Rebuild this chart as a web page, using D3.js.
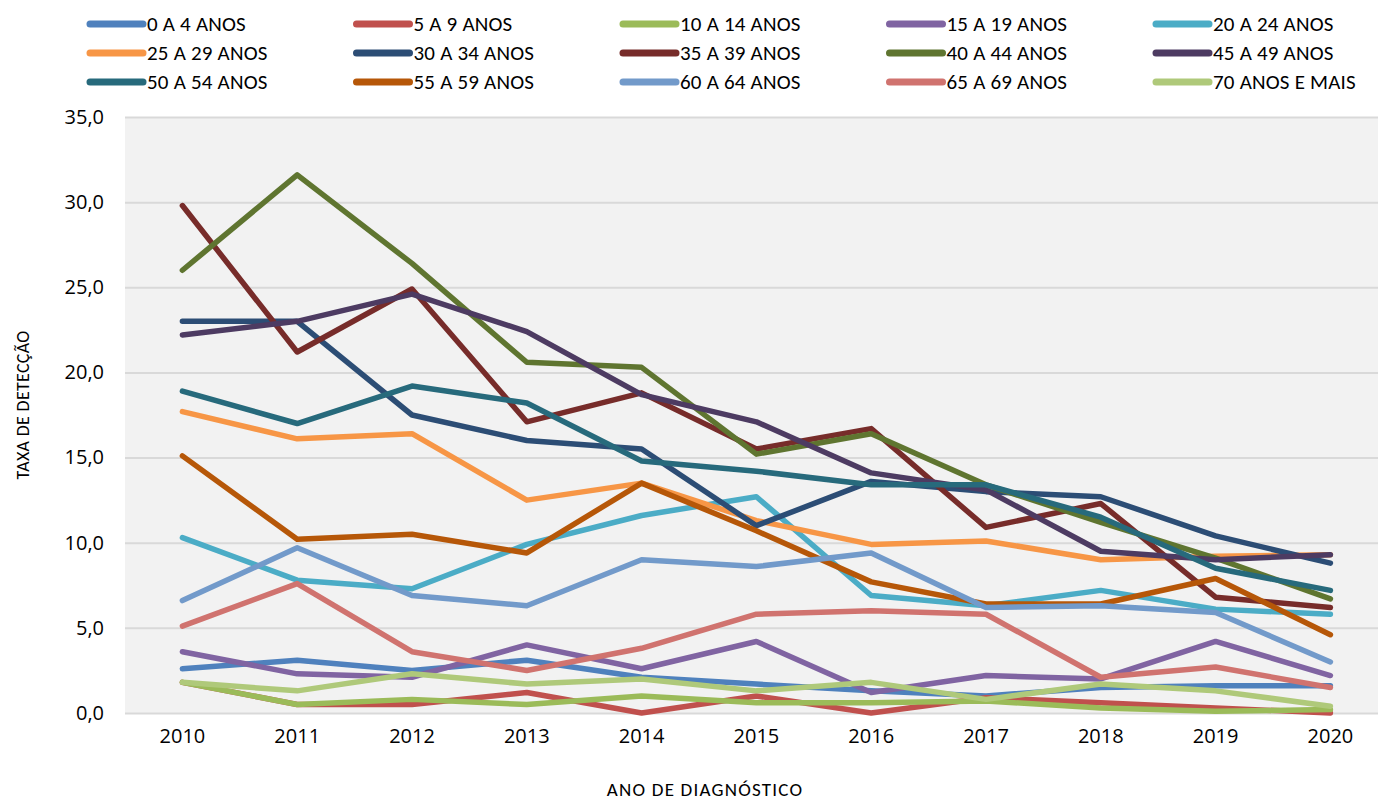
<!DOCTYPE html>
<html>
<head>
<meta charset="utf-8">
<script src="https://cdn.jsdelivr.net/npm/d3@7"></script>
<style>
  body { margin: 0; background: #fff; }
  .tick text { font-family: "Open Sans", "DejaVu Sans", sans-serif; }
  .leg, .title { font-family: Carlito, "Liberation Sans Narrow", "Liberation Sans", sans-serif; }
</style>
</head>
<body>
<div id="chart"></div>
<script>
// Data
let years = ["2010", "2011", "2012", "2013", "2014", "2015", "2016", "2017", "2018", "2019", "2020"];
let groups = [
	"0 A 4 ANOS", "5 A 9 ANOS", "10 A 14 ANOS", "15 A 19 ANOS", "20 A 24 ANOS",
	"25 A 29 ANOS", "30 A 34 ANOS", "35 A 39 ANOS", "40 A 44 ANOS", "45 A 49 ANOS",
	"50 A 54 ANOS", "55 A 59 ANOS", "60 A 64 ANOS", "65 A 69 ANOS", "70 ANOS E MAIS"
];
let colors = [
	"#4f81bd", "#c0504d", "#9bbb59", "#8064a2", "#4bacc6",
	"#f79646", "#2c4d75", "#772c2a", "#5f7530", "#4d3b62",
	"#276a7c", "#b65708", "#729aca", "#d0736f", "#afc97a"
];
let age0_4   = [2.6, 3.1, 2.5, 3.1, 2.1, 1.7, 1.3, 1.0, 1.5, 1.6, 1.6];
let age5_9   = [1.8, 0.5, 0.5, 1.2, 0.0, 1.0, 0.0, 0.9, 0.6, 0.3, 0.0];
let age10_14 = [1.8, 0.5, 0.8, 0.5, 1.0, 0.6, 0.6, 0.7, 0.3, 0.1, 0.2];
let age15_19 = [3.6, 2.3, 2.1, 4.0, 2.6, 4.2, 1.2, 2.2, 2.0, 4.2, 2.2];
let age20_24 = [10.3, 7.8, 7.3, 9.9, 11.6, 12.7, 6.9, 6.3, 7.2, 6.1, 5.8];
let age25_29 = [17.7, 16.1, 16.4, 12.5, 13.5, 11.3, 9.9, 10.1, 9.0, 9.2, 9.3];
let age30_34 = [23.0, 23.0, 17.5, 16.0, 15.5, 11.0, 13.6, 13.0, 12.7, 10.4, 8.8];
let age35_39 = [29.8, 21.2, 24.9, 17.1, 18.8, 15.5, 16.7, 10.9, 12.3, 6.8, 6.2];
let age40_44 = [26.0, 31.6, 26.4, 20.6, 20.3, 15.2, 16.4, 13.4, 11.2, 9.1, 6.7];
let age45_49 = [22.2, 23.0, 24.6, 22.4, 18.7, 17.1, 14.1, 13.1, 9.5, 9.0, 9.3];
let age50_54 = [18.9, 17.0, 19.2, 18.2, 14.8, 14.2, 13.4, 13.4, 11.5, 8.5, 7.2];
let age55_59 = [15.1, 10.2, 10.5, 9.4, 13.5, 10.7, 7.7, 6.4, 6.4, 7.9, 4.6];
let age60_64 = [6.6, 9.7, 6.9, 6.3, 9.0, 8.6, 9.4, 6.2, 6.3, 5.9, 3.0];
let age65_69 = [5.1, 7.6, 3.6, 2.5, 3.8, 5.8, 6.0, 5.8, 2.1, 2.7, 1.5];
let age70    = [1.8, 1.3, 2.3, 1.7, 2.0, 1.3, 1.8, 0.8, 1.7, 1.3, 0.4];
let yTicks = [0, 5, 10, 15, 20, 25, 30, 35];

let series = [age0_4, age5_9, age10_14, age15_19, age20_24, age25_29, age30_34,
	age35_39, age40_44, age45_49, age50_54, age55_59, age60_64, age65_69, age70];

var W = 1378, H = 801;
var margin = {top: 117, left: 125},
	plotW = 11 * 114.8,
	plotH = 596;

var svg = d3.select("#chart")
	.append("svg")
	.attr("width", W)
	.attr("height", H);

var g = svg.append("g")
	.attr("transform", "translate(" + margin.left + "," + margin.top + ")");

var x = d3.scaleBand()
	.domain(years)
	.range([0, plotW]);

var y = d3.scaleLinear()
	.domain([0, 35])
	.range([plotH, 0]);

// plot background
g.append("rect")
	.attr("width", plotW)
	.attr("height", plotH)
	.attr("fill", "#f2f2f2");

// gridlines
g.append("g")
	.call(d3.axisLeft(y).tickValues(yTicks).tickSize(-plotW).tickFormat(""))
	.call(a => a.select(".domain").remove())
	.call(a => a.selectAll("line").attr("stroke", "#d9d9d9").attr("stroke-width", 2));

// Y axis labels
g.append("g")
	.call(d3.axisLeft(y).tickValues(yTicks).tickSize(0).tickPadding(21)
		.tickFormat(d => d3.format(".1f")(d).replace(".", ",")))
	.call(a => a.select(".domain").remove())
	.call(a => a.selectAll("text").attr("font-size", 20).attr("fill", "#000"));

// X axis labels
g.append("g")
	.attr("transform", "translate(0," + plotH + ")")
	.call(d3.axisBottom(x).tickSize(0).tickPadding(16))
	.call(a => a.select(".domain").remove())
	.call(a => a.selectAll("text").attr("font-size", 20).attr("fill", "#000"));

// lines
var line = d3.line()
	.x(function(d, i) { return x(years[i]) + x.bandwidth() / 2; })
	.y(function(d) { return y(d); });

series.forEach(function(s, k) {
	g.append("path")
		.datum(s)
		.attr("fill", "none")
		.attr("stroke", colors[k])
		.attr("stroke-width", 5.5)
		.attr("stroke-linejoin", "round")
		.attr("stroke-linecap", "round")
		.attr("d", line);
});

// axis titles
svg.append("text")
	.attr("class", "title")
	.attr("transform", "translate(29,405) rotate(-90)")
	.attr("text-anchor", "middle")
	.attr("font-size", 18)
	.attr("letter-spacing", 0.3)
	.text("TAXA DE DETECÇÃO");

svg.append("text")
	.attr("class", "title")
	.attr("x", 705)
	.attr("y", 796)
	.attr("text-anchor", "middle")
	.attr("font-size", 19)
	.attr("letter-spacing", 1.2)
	.text("ANO DE DIAGNÓSTICO");

// legend, 5 columns x 3 rows
var leg = svg.append("g");
groups.forEach(function(name, k) {
	var col = k % 5, row = Math.floor(k / 5);
	var lx = 87 + col * 266.5, ly = 24 + row * 29;
	leg.append("line")
		.attr("x1", lx + 3).attr("x2", lx + 56)
		.attr("y1", ly).attr("y2", ly)
		.attr("stroke", colors[k])
		.attr("stroke-width", 7)
		.attr("stroke-linecap", "round");
	leg.append("text")
		.attr("class", "leg")
		.attr("x", lx + 60)
		.attr("y", ly + 7)
		.attr("font-size", 21)
		.attr("letter-spacing", 0.2)
		.text(name);
});
</script>
</body>
</html>
